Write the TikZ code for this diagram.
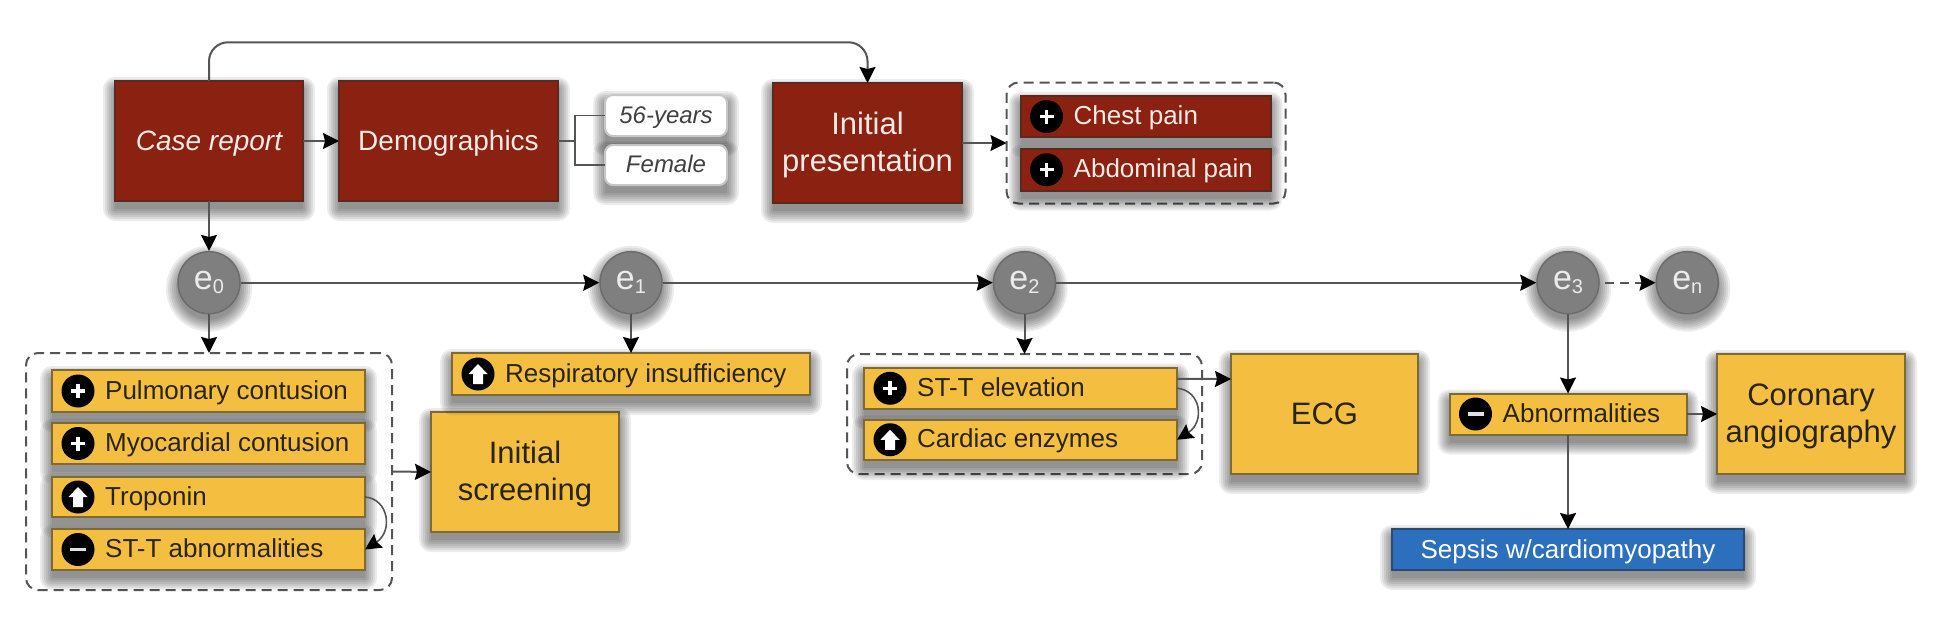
\documentclass[tikz,border=0pt]{standalone}
\usepackage{fontspec}
\setmainfont{Liberation Sans}
\usetikzlibrary{arrows.meta}
\definecolor{cred}{HTML}{8B2110}
\definecolor{credb}{HTML}{5A2A20}
\definecolor{cyel}{HTML}{F4BE40}
\definecolor{cyelb}{HTML}{7D6A35}
\definecolor{cblue}{HTML}{2C70BD}
\definecolor{cblueb}{HTML}{2B4A70}
\definecolor{cgray}{HTML}{7F7F7F}
\definecolor{cgrayb}{HTML}{6C6C6C}
\definecolor{cline}{HTML}{555555}
\definecolor{cdark}{HTML}{2A2510}
\definecolor{clight}{HTML}{F3E9E6}
\tikzset{
  shadowlayer/.style={fill=black,fill opacity=.075},
  bx/.style={anchor=north west,inner sep=0pt,outer sep=0pt,line width=2pt},
  redbox/.style={bx,fill=cred,draw=credb},
  yelbox/.style={bx,fill=cyel,draw=cyelb},
  bluebox/.style={bx,fill=cblue,draw=cblueb},
  pillbox/.style={bx,fill=white,draw=black!22,rounded corners=8pt},
  redrowtext/.style={text=clight},
  yelrowtext/.style={text=cdark},
  redlabel/.style={text=clight},
  yellabel/.style={text=cdark},
  bluelabel/.style={text=white,font=\fontsize{26}{30}\selectfont},
  pilllabel/.style={text=black!75,font=\fontsize{24}{28}\selectfont\itshape},
  dashbox/.style={anchor=north west,inner sep=0pt,outer sep=0pt,draw=cline,line width=2pt,rounded corners=12pt,dash pattern=on 10pt off 6pt},
  rowtext/.style={anchor=west,inner sep=0pt,text height=19pt,text depth=6pt,font=\fontsize{26}{30}\selectfont},
  iconb/.style={circle,fill=black,minimum size=33pt,inner sep=0pt},
  enode/.style={circle,fill=cgray,draw=cgrayb,line width=1.5pt,minimum size=62pt,inner sep=0pt,text=white!92!black,font=\fontsize{34}{34}\selectfont},
  conn/.style={draw=cline,line width=2pt,-{Stealth[length=16pt,width=16pt,inset=2pt,black]}},
  plainconn/.style={draw=cline,line width=1.6pt},
  curveconn/.style={draw=cline,line width=1.6pt,-{Stealth[length=16pt,width=16pt,inset=2pt,black]}},
  bigtext/.style={font=\fontsize{31}{37}\selectfont},
  midtext/.style={font=\fontsize{28}{32}\selectfont}
}
% soft shadow of a rectangle: x, y, w, h
\newcommand{\softrect}[4]{%
  \foreach \g in {0,2,4,6,8,10,12}{%
    \fill[shadowlayer,rounded corners=\g pt] ({#1-\g},{#2+8-\g}) rectangle ({#1+#3+\g},{#2+#4+8+\g});
  }}
% soft shadow of a circle: x, y
\newcommand{\softcirc}[2]{%
  \foreach \g in {0,2,4,6,8,10,12}{%
    \fill[shadowlayer] (#1,#2+6) circle ({31+\g});
  }}
% name, x, y, w, h, family, label style, text, text shift down
\newcommand{\bigbx}[9]{%
  \softrect{#2}{#3}{#4}{#5}
  \node[#6box,minimum width=#4pt,minimum height=#5pt] (#1) at (#2,#3) {};
  \node[#6label,#7,align=center,inner sep=0pt] (#1-t) at ([yshift=-#9pt]#1.center) {#8};
}
\newcommand{\iconPlus}{\fill[white] (-7,-1.6) rectangle (7,1.6); \fill[white] (-1.6,-7) rectangle (1.6,7);}
\newcommand{\iconMinus}{\fill[white!88!black] (-8,-1.8) rectangle (8,1.8);}
\newcommand{\iconUp}{\fill[white] (0,-10) -- (9.5,0) -- (5,0) -- (5,10) -- (-5,10) -- (-5,0) -- (-9.5,0) -- cycle;}
\newcommand{\rowitem}[8]{%
  \softrect{#2}{#3}{#4}{#5}
  \node[#6box,minimum width=#4pt,minimum height=#5pt] (#1) at (#2,#3) {};
  \node[iconb] (#1-i) at ([xshift=26pt]#1.west) {};
  \begin{scope}[shift={(#1-i.center)}]#7\end{scope}
  \node[rowtext,#6rowtext] (#1-t) at ([xshift=53pt,yshift=-1.5pt]#1.west) {#8};
}
\newcommand{\enm}[1]{e\raisebox{-4pt}{\fontsize{20}{20}\selectfont #1}}
\newcommand{\evnode}[4]{%
  \softcirc{#2}{#3}
  \node[enode] (#1) at (#2,#3) {\enm{#4}};
}
\begin{document}
\begin{tikzpicture}[x=1pt,y=-1pt]
\useasboundingbox (0,0) rectangle (1934,618);
\fill[white] (0,0) rectangle (1934,618);
% dashed groups
\node[dashbox,minimum width=279pt,minimum height=121pt] (gpain) at (1006.5,82.5) {};
\node[dashbox,minimum width=366pt,minimum height=237pt] (gscreen) at (26,353) {};
\node[dashbox,minimum width=355pt,minimum height=120pt] (gecg) at (847,354) {};
% top row
\bigbx{case}{115}{81}{188}{120}{red}{midtext}{\itshape Case report}{2.5}
\bigbx{demo}{339}{81}{219}{120}{red}{midtext}{Demographics}{2.5}
\bigbx{age}{605}{95}{122}{41}{pill}{}{56-years}{2.5}
\bigbx{sex}{605}{145}{122}{40}{pill}{}{Female}{-1}
\bigbx{init}{773}{83}{189}{120}{red}{bigtext}{Initial\\presentation}{1.5}
\rowitem{chest}{1020.5}{96}{250}{41}{red}{\iconPlus}{Chest pain}
\rowitem{abdo}{1020.5}{149}{250}{41.5}{red}{\iconPlus}{Abdominal pain}
% event nodes
\evnode{e0}{209}{282.7}{0}
\evnode{e1}{631}{282.7}{1}
\evnode{e2}{1024.5}{282.7}{2}
\evnode{e3}{1568}{282.7}{3}
\evnode{en}{1687.3}{282.7}{n}
% screening group
\rowitem{pulm}{52}{370}{313}{42}{yel}{\iconPlus}{Pulmonary contusion}
\rowitem{myo}{52}{423}{313}{41}{yel}{\iconPlus}{Myocardial contusion}
\rowitem{trop}{52}{477}{313}{40}{yel}{\iconUp}{Troponin}
\rowitem{stab}{52}{529}{313}{41}{yel}{\iconMinus}{ST-T abnormalities}
\bigbx{screen}{431}{412}{188}{120}{yel}{bigtext}{Initial\\screening}{1.5}
\rowitem{resp}{452}{353}{358}{42}{yel}{\iconUp}{Respiratory insufficiency}
% ECG group
\rowitem{stel}{864}{367.5}{313}{41.5}{yel}{\iconPlus}{ST-T elevation}
\rowitem{card}{864}{419.5}{313}{40.5}{yel}{\iconUp}{Cardiac enzymes}
\bigbx{ecg}{1231}{354}{187}{120}{yel}{bigtext}{ECG}{0}
% right side
\rowitem{abn}{1449.5}{393.5}{237}{41}{yel}{\iconMinus}{Abnormalities}
\bigbx{cor}{1717}{354}{188}{120}{yel}{bigtext}{Coronary\\angiography}{2.5}
\bigbx{sep}{1392}{529}{352}{41}{blue}{}{Sepsis w/cardiomyopathy}{2.5}
% connectors
\coordinate (top) at (540,42.3);
\coordinate (brk) at (575,141);
\draw[conn,rounded corners=19pt] (case.north) -- (case.north |- top) -- (init.north |- top) -- (init.north);
\draw[conn] (case.east) -- (demo.west);
\draw[conn] (case.south) -- (e0.north);
\draw[plainconn] (demo.east) -- (brk);
\draw[plainconn] (age.west) -| (brk) |- (sex.west);
\draw[conn] (init.east) -- (gpain.west);
\draw[conn] (e0.east) -- (e1.west);
\draw[conn] (e1.east) -- (e2.west);
\draw[conn] (e2.east) -- (e3.west);
\draw[conn,dash pattern=on 9pt off 6pt,shorten <=5pt] (e3.east) -- (en.west);
\draw[conn] (e0.south) -- (gscreen.north);
\draw[conn] (e1.south) -- (resp.north);
\draw[conn] (e2.south) -- (gecg.north);
\draw[conn] (gscreen.east) -- (screen.west);
\draw[curveconn] (trop.east) .. controls +(24,2) and +(28,-18) .. (stab.east);
\draw[curveconn] (stel.east) .. controls +(24,2) and +(28,-18) .. (card.east);
\draw[conn] ([yshift=9.5pt]stel.east) -- ([yshift=35pt]ecg.west);
\draw[conn] (e3.south) -- (abn.north);
\draw[conn] (abn.east) -- (cor.west);
\draw[conn] (abn.south) -- (sep.north);
\end{tikzpicture}
\end{document}
